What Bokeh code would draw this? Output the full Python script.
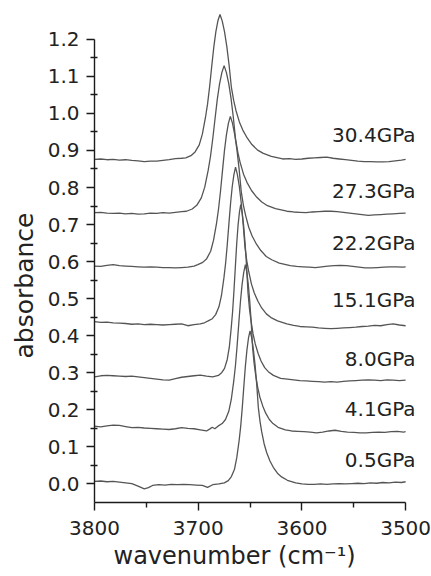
from bokeh.plotting import figure
from bokeh.models import Range1d, FixedTicker, PrintfTickFormatter, Title
from bokeh.embed import file_html
from bokeh.resources import INLINE
from bokeh.core.properties import value

# ---------------- data ----------------
pressures = ["30.4GPa", "27.3GPa", "22.2GPa", "15.1GPa", "8.0GPa", "4.1GPa", "0.5GPa"]

wn_304 = [3800, 3794, 3788, 3782, 3776, 3770, 3764, 3758, 3752, 3746, 3740, 3734, 3728, 3722, 3716,
          3712, 3707, 3703, 3699, 3696, 3693, 3691, 3689, 3687, 3685, 3683, 3681, 3679,
          3676.8, 3674.6, 3672.4, 3670.2, 3668, 3665.8, 3663.6, 3660.3, 3657, 3652.6, 3648.2, 3642.7, 3637.2, 3629.5, 3618.5,
          3612, 3606, 3600, 3594, 3588, 3582, 3576, 3570, 3564, 3558, 3552, 3546, 3540, 3534, 3528, 3522, 3516, 3510, 3504, 3500]
ab_304 = [0.876, 0.877, 0.875, 0.876, 0.874, 0.875, 0.873, 0.872, 0.870, 0.871, 0.871, 0.873, 0.875, 0.878, 0.879,
          0.880, 0.886, 0.896, 0.915, 0.944, 0.989, 1.025, 1.072, 1.126, 1.178, 1.220, 1.250, 1.267,
          1.249, 1.220, 1.180, 1.130, 1.070, 1.035, 1.008, 0.977, 0.955, 0.933, 0.916, 0.901, 0.892, 0.884, 0.877,
          0.878, 0.876, 0.877, 0.879, 0.880, 0.881, 0.882, 0.879, 0.877, 0.875, 0.873, 0.871, 0.870, 0.870, 0.869, 0.869, 0.870, 0.872, 0.874, 0.876]

wn_273 = [3800, 3794, 3788, 3782, 3776, 3770, 3764, 3758, 3752, 3746, 3740, 3734, 3728, 3722, 3716,
          3711.3, 3705.8, 3701.4, 3697, 3693.7, 3690.4, 3688.2, 3686, 3683.8, 3681.6, 3679.4, 3677.2, 3675,
          3672.8, 3670.6, 3668.4, 3666.2, 3664, 3661.8, 3659.6, 3656.3, 3653, 3648.6, 3644.2, 3638.7, 3633.2, 3625.5, 3614.5,
          3608, 3602, 3596, 3590, 3584, 3578, 3572, 3566, 3560, 3554, 3548, 3542, 3536, 3530, 3524, 3518, 3512, 3506, 3500]
ab_273 = [0.732, 0.733, 0.731, 0.730, 0.731, 0.729, 0.730, 0.728, 0.729, 0.731, 0.730, 0.732, 0.731, 0.733, 0.735,
          0.736, 0.742, 0.752, 0.772, 0.801, 0.846, 0.883, 0.931, 0.985, 1.038, 1.080, 1.110, 1.129,
          1.110, 1.081, 1.042, 0.991, 0.931, 0.895, 0.868, 0.836, 0.814, 0.792, 0.776, 0.761, 0.751, 0.743, 0.736,
          0.734, 0.733, 0.732, 0.734, 0.735, 0.736, 0.736, 0.735, 0.733, 0.731, 0.729, 0.727, 0.725, 0.726, 0.727, 0.728, 0.729, 0.730, 0.731]

wn_222 = [3800, 3794, 3788, 3782, 3776, 3770, 3764, 3758, 3752, 3746, 3740, 3734, 3728, 3722, 3716, 3710, 3704,
          3700.4, 3695.6, 3691.8, 3688, 3685.2, 3682.3, 3680.4, 3678.5, 3676.6, 3674.7, 3672.8, 3670.9, 3669,
          3666.9, 3664.8, 3662.7, 3660.6, 3658.5, 3656.4, 3654.3, 3651.2, 3648, 3643.8, 3639.6, 3634.4, 3629.1, 3621.8, 3611.2,
          3605, 3599, 3593, 3587, 3581, 3575, 3569, 3563, 3557, 3551, 3545, 3539, 3533, 3527, 3521, 3515, 3509, 3503, 3500]
ab_222 = [0.588, 0.587, 0.590, 0.592, 0.589, 0.588, 0.587, 0.586, 0.585, 0.586, 0.585, 0.584, 0.584, 0.583, 0.584, 0.585, 0.588,
          0.592, 0.598, 0.608, 0.628, 0.658, 0.704, 0.742, 0.790, 0.845, 0.899, 0.942, 0.973, 0.992,
          0.973, 0.943, 0.903, 0.851, 0.789, 0.752, 0.725, 0.692, 0.669, 0.647, 0.630, 0.614, 0.605, 0.596, 0.589,
          0.587, 0.586, 0.585, 0.584, 0.586, 0.588, 0.589, 0.590, 0.589, 0.587, 0.585, 0.583, 0.583, 0.584, 0.585, 0.586, 0.586, 0.585, 0.586]

wn_151 = [3800, 3794, 3788, 3782, 3776, 3770, 3764, 3758, 3752, 3746, 3740, 3734, 3728, 3722, 3716, 3710, 3704, 3698, 3694,
          3690.4, 3686.4, 3683.2, 3680, 3677.6, 3675.2, 3673.6, 3672, 3670.4, 3668.8, 3667.2, 3665.6, 3664,
          3662.2, 3660.4, 3658.6, 3656.8, 3655, 3653.2, 3651.4, 3648.7, 3646, 3642.4, 3638.8, 3634.3, 3629.8, 3623.5, 3614.5,
          3608, 3602, 3596, 3590, 3584, 3578, 3572, 3566, 3560, 3554, 3548, 3542, 3536, 3530, 3524, 3518, 3512, 3506, 3500]
ab_151 = [0.438, 0.436, 0.437, 0.435, 0.434, 0.433, 0.431, 0.432, 0.430, 0.431, 0.430, 0.429, 0.430, 0.431, 0.432, 0.427, 0.430, 0.432, 0.435,
          0.440, 0.446, 0.457, 0.478, 0.508, 0.556, 0.595, 0.645, 0.702, 0.757, 0.802, 0.834, 0.855,
          0.835, 0.804, 0.761, 0.707, 0.642, 0.603, 0.575, 0.540, 0.516, 0.493, 0.475, 0.459, 0.449, 0.440, 0.432,
          0.428, 0.425, 0.424, 0.423, 0.421, 0.420, 0.419, 0.420, 0.421, 0.422, 0.423, 0.425, 0.426, 0.428, 0.427, 0.430, 0.432, 0.429, 0.427]

wn_80 = [3800, 3794, 3788, 3782, 3776, 3770, 3764, 3758, 3752, 3746, 3740, 3734, 3728, 3722, 3716, 3710, 3704, 3698, 3692, 3686,
         3680.5, 3677.2, 3674.6, 3672, 3670, 3668.1, 3666.8, 3665.5, 3664.2, 3662.9, 3661.6, 3660.3, 3659,
         3657.6, 3656.2, 3654.8, 3653.4, 3652, 3650.6, 3649.2, 3647.1, 3645, 3642.2, 3639.4, 3635.9, 3632.4, 3627.5, 3620.5,
         3614, 3608, 3602, 3596, 3590, 3584, 3578, 3572, 3566, 3560, 3554, 3548, 3542, 3536, 3530, 3524, 3518, 3512, 3506, 3500]
ab_80 = [0.289, 0.292, 0.293, 0.292, 0.291, 0.290, 0.291, 0.289, 0.287, 0.285, 0.283, 0.281, 0.280, 0.284, 0.288, 0.290, 0.292, 0.294, 0.291, 0.289,
         0.293, 0.301, 0.312, 0.336, 0.369, 0.423, 0.466, 0.522, 0.585, 0.647, 0.697, 0.732, 0.754,
         0.732, 0.697, 0.650, 0.590, 0.517, 0.474, 0.443, 0.405, 0.378, 0.352, 0.332, 0.314, 0.303, 0.293, 0.285,
         0.283, 0.281, 0.279, 0.278, 0.277, 0.276, 0.275, 0.276, 0.275, 0.277, 0.278, 0.279, 0.280, 0.281, 0.280, 0.279, 0.281, 0.280, 0.279, 0.280]

wn_41 = [3800, 3794, 3788, 3782, 3776, 3770, 3764, 3758, 3752, 3746, 3740, 3734, 3728, 3722, 3716, 3710, 3704, 3698, 3692, 3689, 3686.5, 3684,
         3680.9, 3676.9, 3673.7, 3670.5, 3668.1, 3665.7, 3664.1, 3662.5, 3660.9, 3659.3, 3657.7, 3656.1, 3654.5,
         3653.1, 3651.7, 3650.3, 3648.9, 3647.5, 3646.1, 3644.7, 3642.6, 3640.5, 3637.7, 3634.9, 3631.4, 3627.9, 3623, 3616,
         3610, 3604, 3598, 3592, 3586, 3580, 3574, 3568, 3562, 3556, 3550, 3544, 3538, 3532, 3526, 3520, 3514, 3508, 3502, 3500]
ab_41 = [0.156, 0.154, 0.157, 0.159, 0.158, 0.155, 0.152, 0.153, 0.151, 0.150, 0.149, 0.148, 0.147, 0.149, 0.152, 0.150, 0.149, 0.146, 0.143, 0.148, 0.153, 0.149,
         0.156, 0.163, 0.174, 0.196, 0.228, 0.278, 0.319, 0.372, 0.432, 0.491, 0.538, 0.571, 0.592,
         0.571, 0.538, 0.493, 0.436, 0.367, 0.326, 0.296, 0.260, 0.234, 0.210, 0.191, 0.174, 0.163, 0.153, 0.146,
         0.143, 0.142, 0.141, 0.140, 0.138, 0.140, 0.143, 0.145, 0.142, 0.140, 0.139, 0.138, 0.138, 0.139, 0.140, 0.139, 0.141, 0.142, 0.140, 0.141]

wn_05 = [3800, 3794, 3788, 3782, 3776, 3770, 3764, 3758, 3752, 3748, 3744, 3738, 3732, 3726, 3720, 3714, 3708, 3702, 3696, 3691, 3686, 3680,
         3674.8, 3671, 3668, 3665, 3662.8, 3660.5, 3659, 3657.5, 3656, 3654.5, 3653, 3651.5, 3650,
         3648.4, 3646.8, 3645.2, 3643.6, 3642, 3640.4, 3638.8, 3636.4, 3634, 3630.8, 3627.6, 3623.6, 3619.6, 3614, 3606,
         3600, 3594, 3588, 3582, 3576, 3570, 3564, 3558, 3552, 3546, 3540, 3534, 3528, 3522, 3516, 3510, 3504, 3500]
ab_05 = [0.007, 0.008, 0.006, 0.007, 0.005, 0.003, 0.001, -0.006, -0.013, -0.010, -0.004, -0.002, -0.003, -0.001, -0.002, -0.001, -0.002, -0.003, -0.004, -0.009, -0.002, 0.000,
         0.003, 0.009, 0.020, 0.040, 0.071, 0.118, 0.156, 0.206, 0.263, 0.318, 0.362, 0.394, 0.413,
         0.394, 0.363, 0.322, 0.269, 0.206, 0.169, 0.141, 0.108, 0.085, 0.062, 0.045, 0.029, 0.019, 0.010, 0.003,
         0.000, -0.001, -0.001, 0.000, -0.001, 0.000, 0.001, 0.000, 0.001, 0.002, 0.001, 0.003, 0.002, 0.004, 0.003, 0.005, 0.004, 0.006]

x_major = [3800, 3700, 3600, 3500]
x_minor = [3750, 3650, 3550]
y_major = [0.0, 0.1, 0.2, 0.3, 0.4, 0.5, 0.6, 0.7, 0.8, 0.9, 1.0, 1.1, 1.2]
y_minor = [0.05, 0.15, 0.25, 0.35, 0.45, 0.55, 0.65, 0.75, 0.85, 0.95, 1.05, 1.15]

# label anchor positions (layout)
label_x = [3490.4] * 7
label_y = [0.943, 0.791, 0.650, 0.496, 0.336, 0.201, 0.066]

FONT = "DejaVu Sans"
INK = "#222222"
LINE = "#555555"

p = figure(width=431, height=576, output_backend="svg", toolbar_location=None,
           x_range=Range1d(3800, 3489.5), y_range=Range1d(-0.05, 1.275),
           min_border_left=94, min_border_right=15, min_border_top=11, min_border_bottom=74)
p.xgrid.visible = False
p.ygrid.visible = False
p.outline_line_color = None
p.background_fill_color = "white"
p.border_fill_color = "white"

series = [(wn_304, ab_304), (wn_273, ab_273), (wn_222, ab_222), (wn_151, ab_151),
          (wn_80, ab_80), (wn_41, ab_41), (wn_05, ab_05)]
for xs, ys in series:
    p.line(xs, ys, line_color=LINE, line_width=1.3)

p.text(x=label_x, y=label_y, text=pressures, text_align="right", text_baseline="alphabetic",
       text_font=value(FONT), text_font_size="20px", text_color=INK)

# axes
p.xaxis.ticker = FixedTicker(ticks=x_major, minor_ticks=x_minor)
p.xaxis.bounds = (3500, 3800)
p.yaxis.ticker = FixedTicker(ticks=y_major, minor_ticks=y_minor)
p.yaxis.bounds = (-0.05, 1.2)
p.yaxis.formatter = PrintfTickFormatter(format="%.1f")

for ax in (p.xaxis[0], p.yaxis[0]):
    ax.axis_line_color = "#1a1a1a"
    ax.axis_line_width = 1.4
    ax.major_tick_line_color = "#1a1a1a"
    ax.minor_tick_line_color = "#1a1a1a"
    ax.major_tick_line_width = 1.4
    ax.minor_tick_line_width = 1.4
    ax.major_tick_in = 0
    ax.major_tick_out = 8
    ax.major_label_text_font = FONT
    ax.major_label_text_font_size = "20px"
    ax.major_label_text_color = INK
p.xaxis.minor_tick_in = 0
p.xaxis.minor_tick_out = 5
p.yaxis.minor_tick_in = 3
p.yaxis.minor_tick_out = 4
p.xaxis.major_label_standoff = 10
p.yaxis.major_label_standoff = 7

ylab = Title(text="absorbance", align="left", offset=144, standoff=11,
             text_font=FONT, text_font_size="25px", text_font_style="normal", text_color=INK)
xlab = Title(text="wavenumber (cm\u207b\u00b9)", align="left", offset=19, standoff=4,
             text_font=FONT, text_font_size="24px", text_font_style="normal", text_color=INK)
p.add_layout(ylab, "left")
p.add_layout(xlab, "below")

open("out.html", "w").write(file_html(p, INLINE))
